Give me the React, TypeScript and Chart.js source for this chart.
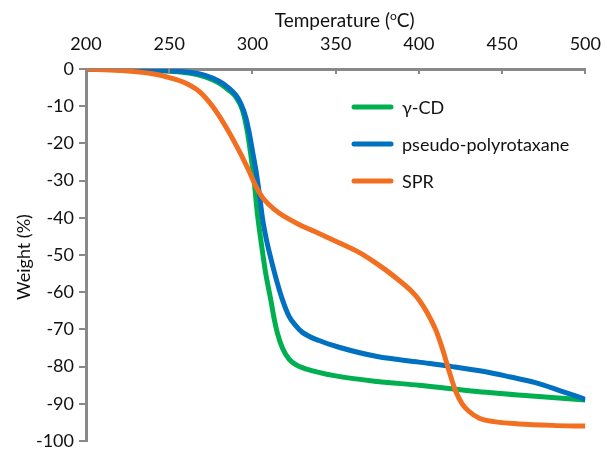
import { useEffect, useRef } from "react";
import { Chart, registerables } from "chart.js";

Chart.register(...registerables);

// ---- data ----
const xMin = 200;
const xMax = 500;
const xStep = 50;
const yMin = -100;
const yMax = 0;
const yStep = 10;

const seriesLabels = ["γ-CD", "pseudo-polyrotaxane", "SPR"];
const seriesColors = ["#00B050", "#0070C0", "#F26F21"];

const gammaCdTemp = [200, 230, 250, 262, 272, 280, 286, 290, 294, 297, 299, 301, 303, 306, 308, 311, 313, 315, 318, 322, 326, 332, 350, 375, 400, 435, 470, 500];
const gammaCdWeight = [0, -0.2, -0.6, -1.1, -2.2, -3.8, -5.8, -7.5, -11, -17, -23, -30, -39, -49, -55, -62, -67, -71, -75, -78, -79.5, -80.6, -82.5, -84, -85, -86.7, -88, -89];

const pseudoTemp = [200, 230, 250, 262, 272, 280, 286, 290, 293, 296, 298, 300, 302, 304, 306, 308, 310, 314, 318, 322, 326, 330, 340, 352, 375, 400, 420, 440, 455, 470, 485, 500];
const pseudoWeight = [0, -0.2, -0.5, -0.9, -1.8, -3.3, -5.2, -7, -9.3, -13, -17, -22, -27, -33, -40, -45, -49, -56, -62, -66.5, -69, -70.8, -73, -74.8, -77.3, -78.8, -80, -81.4, -82.8, -84.3, -86.5, -88.8];

const sprTemp = [200, 220, 240, 250, 260, 268, 276, 284, 292, 298, 302, 306, 310, 316, 328, 340, 352, 364, 372, 380, 388, 395, 400, 405, 410, 414, 418, 422, 426, 430, 436, 445, 460, 480, 500];
const sprWeight = [0, -0.4, -1.3, -2.3, -3.8, -6, -10, -15.5, -22, -27.5, -31.5, -34.5, -36.5, -38.7, -41.8, -44.2, -46.7, -49.3, -51.5, -54, -56.8, -59.5, -62, -65.5, -70, -75, -81, -86.5, -90, -92, -93.8, -94.8, -95.4, -95.8, -96];

const xTitleMain = "Temperature (";
const xTitleSup = "o";
const xTitleEnd = "C)";
const yTitle = "Weight (%)";

const FONT = "Lato";
const TEXT_COLOR = "#111111";
const AXIS_COLOR = "#898989";

function toPoints(xs: number[], ys: number[]) {
  return xs.map((x, i) => ({ x, y: ys[i] }));
}

const customPlugin = {
  id: "customDecor",
  afterDraw(chart: any) {
    const ctx = chart.ctx as CanvasRenderingContext2D;
    const area = chart.chartArea;
    const xs = chart.scales.x;
    ctx.save();
    // inward x ticks
    ctx.strokeStyle = AXIS_COLOR;
    ctx.lineWidth = 2;
    for (const t of xs.ticks) {
      const px = Math.round(xs.getPixelForValue(t.value));
      ctx.beginPath();
      ctx.moveTo(px, area.top);
      ctx.lineTo(px, area.top + 5);
      ctx.stroke();
    }
    // x title with superscript
    ctx.fillStyle = TEXT_COLOR;
    ctx.textBaseline = "alphabetic";
    ctx.textAlign = "left";
    const mainFont = `19px ${FONT}`;
    const supFont = `12px ${FONT}`;
    ctx.font = mainFont;
    const w1 = ctx.measureText(xTitleMain).width;
    const w3 = ctx.measureText(xTitleEnd).width;
    ctx.font = supFont;
    const w2 = ctx.measureText(xTitleSup).width;
    const total = w1 + w2 + w3;
    const cx = area.left + (area.right - area.left) / 2 + 9;
    let x0 = cx - total / 2;
    const by = 27;
    ctx.font = mainFont;
    ctx.fillText(xTitleMain, x0, by);
    ctx.font = supFont;
    ctx.fillText(xTitleSup, x0 + w1, by - 7);
    ctx.font = mainFont;
    ctx.fillText(xTitleEnd, x0 + w1 + w2, by);

    // y title
    ctx.save();
    ctx.translate(30, (area.top + area.bottom) / 2 + 2);
    ctx.rotate(-Math.PI / 2);
    ctx.textAlign = "center";
    ctx.font = `18px ${FONT}`;
    ctx.fillText(yTitle, 0, 0);
    ctx.restore();

    // legend
    const lx1 = area.left + 268;
    const lx2 = area.left + 305;
    const tx = area.left + 316;
    ctx.font = `18px ${FONT}`;
    ctx.textBaseline = "middle";
    ctx.lineCap = "round";
    chart.data.datasets.forEach((ds: any, i: number) => {
      const y = area.top + 38 + i * 37;
      ctx.strokeStyle = ds.borderColor;
      ctx.lineWidth = 5;
      ctx.beginPath();
      ctx.moveTo(lx1, y);
      ctx.lineTo(lx2, y);
      ctx.stroke();
      ctx.fillStyle = TEXT_COLOR;
      ctx.fillText(ds.label, tx, y + 1);
    });
    ctx.restore();
  },
};

export default function App() {
  const ref = useRef<HTMLCanvasElement>(null);

  useEffect(() => {
    if (!ref.current) return;
    const seriesData = [
      toPoints(gammaCdTemp, gammaCdWeight),
      toPoints(pseudoTemp, pseudoWeight),
      toPoints(sprTemp, sprWeight),
    ];
    const orders = [2, 1, 0];
    const chart = new Chart(ref.current, {
      type: "line",
      data: {
        datasets: seriesLabels.map((label, i) => ({
          label,
          data: seriesData[i],
          borderColor: seriesColors[i],
          backgroundColor: seriesColors[i],
          borderWidth: 5,
          pointRadius: 0,
          fill: false,
          cubicInterpolationMode: "monotone" as const,
          order: orders[i],
        })),
      },
      options: {
        responsive: false,
        animation: false,
        layout: { padding: { left: 0, right: 19, top: 0, bottom: 8 } },
        plugins: {
          legend: { display: false },
          tooltip: { enabled: false },
          title: { display: false },
        },
        scales: {
          x: {
            type: "linear",
            position: "top",
            min: xMin,
            max: xMax,
            ticks: {
              stepSize: xStep,
              font: { family: FONT, size: 18 },
              color: TEXT_COLOR,
              padding: 6,
              maxRotation: 0,
            },
            grid: { display: false },
            border: { display: true, color: AXIS_COLOR, width: 3 },
            afterFit(s: any) {
              s.height = 69;
            },
          },
          y: {
            type: "linear",
            min: yMin,
            max: yMax,
            ticks: {
              stepSize: yStep,
              font: { family: FONT, size: 18 },
              color: TEXT_COLOR,
              padding: 5,
            },
            grid: {
              drawOnChartArea: false,
              drawTicks: true,
              tickLength: 7,
              color: AXIS_COLOR,
              lineWidth: 2,
            },
            border: { display: true, color: AXIS_COLOR, width: 3 },
            afterFit(s: any) {
              s.width = 86;
              s.paddingTop = 0;
              s.paddingBottom = 0;
            },
          },
        },
      },
      plugins: [customPlugin],
    } as any);
    return () => chart.destroy();
  }, []);

  return (
    <div style={{ position: "absolute", left: 0, top: 0, width: 607, height: 449, background: "#fff" }}>
      <canvas ref={ref} width={607} height={449} />
    </div>
  );
}
